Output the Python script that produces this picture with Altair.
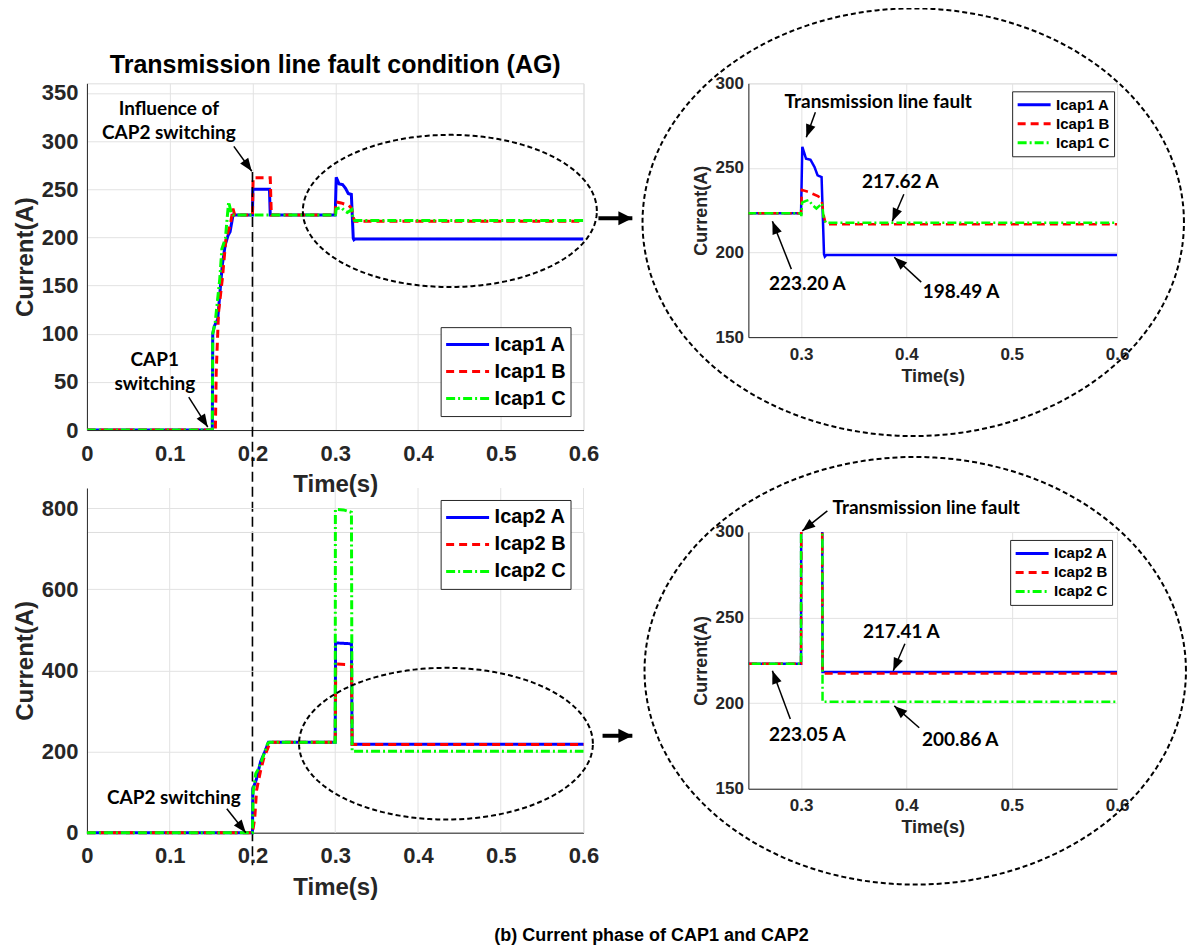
import math
import altair as alt
import numpy as np
import pandas as pd

FONT = "Liberation Sans"
ANN_FONT = "Lato"
AXC = "#262626"
GRID = "#e2e2e2"

# ---------------- series data ----------------
icap1_names = ["Icap1 A", "Icap1 B", "Icap1 C"]
icap1_a_t = [0, 0.1515, 0.152, 0.154, 0.158, 0.1635, 0.167, 0.1705, 0.173, 0.1765, 0.2, 0.2005, 0.2205, 0.2215,
             0.3, 0.3012, 0.3047, 0.309, 0.3128, 0.3157, 0.3195, 0.3218, 0.3226, 0.3240, 0.6]
icap1_a_v = [0, 0, 100, 108, 115, 171, 192, 202, 206, 223.2, 223.2, 250, 250, 223.2,
             223.2, 262.5, 255.5, 254.8, 250.5, 245.6, 244.6, 199.0, 197.6, 198.49, 198.49]
icap1_b_t = [0, 0.1552, 0.1562, 0.159, 0.1636, 0.168, 0.1732, 0.1765, 0.1785, 0.2, 0.2008, 0.2215, 0.2228,
             0.3, 0.3008, 0.307, 0.3164, 0.3198, 0.3215, 0.3235, 0.6]
icap1_b_v = [0, 0, 60, 122, 157, 199, 213, 230, 223.2, 223.2, 262, 262, 223.2,
             223.2, 237, 235.8, 233.2, 230, 222, 216.7, 216.7]
icap1_c_t = [0, 0.1515, 0.152, 0.155, 0.1605, 0.163, 0.1673, 0.1712, 0.1745, 0.1765, 0.2,
             0.3, 0.3003, 0.301, 0.3047, 0.3073, 0.311, 0.3146, 0.3182, 0.32, 0.3215, 0.3235, 0.6]
icap1_c_v = [0, 0, 100, 112, 157, 188, 199, 237, 225, 223.2, 223.2,
             223.2, 221.5, 229.5, 230.5, 231, 228, 226, 228, 229, 220, 217.62, 217.62]

icap2_names = ["Icap2 A", "Icap2 B", "Icap2 C"]
icap2_a_t = [0, 0.2, 0.2005, 0.2045, 0.2098, 0.215, 0.2194, 0.3, 0.3004, 0.318, 0.3196, 0.3204, 0.6]
icap2_a_v = [0, 0, 108, 130, 175, 200, 223.05, 223.05, 468, 466, 466, 218.2, 218.2]
icap2_b_t = [0, 0.2, 0.2027, 0.205, 0.2095, 0.2136, 0.2208, 0.2222, 0.3, 0.3006, 0.312, 0.3196, 0.3204, 0.6]
icap2_b_v = [0, 0, 35, 105, 150, 183, 220, 223.05, 223.05, 416, 415, 413, 217.3, 217.3]
icap2_c_t = [0, 0.2, 0.2008, 0.204, 0.2075, 0.212, 0.2184, 0.2205, 0.3, 0.3002, 0.31, 0.3196, 0.3204, 0.6]
icap2_c_v = [0, 0, 100, 146, 158, 183, 220, 223.05, 223.05, 797, 796, 790, 200.86, 200.86]

colors = ["#0000ff", "#ff0000", "#00ff00"]
dashes = [[1, 0], [8, 5], [9, 3, 2, 3]]

# tick values
main_x_ticks = [0, 0.1, 0.2, 0.3, 0.4, 0.5, 0.6]
zoom_x_ticks = [0.3, 0.4, 0.5, 0.6]
top_y_ticks = [0, 50, 100, 150, 200, 250, 300, 350]
bot_y_ticks = [0, 200, 400, 600, 800]
zoom_y_ticks = [150, 200, 250, 300]
bl_grid_ticks = [0.1, 0.3, 0.4, 0.5, 0.6]   # 0.2 is covered by the dashed marker line

# annotations: (text, t, value)
tl_texts = [("Influence of", 0.099, 333), ("CAP2 switching", 0.099, 308),
            ("CAP1", 0.082, 72.6), ("switching", 0.082, 47.7)]
tl_arrows = [(0.1775, 294.6, 0.1992, 268.7), (0.123, 34.2, 0.146, 3.1)]
tl_big_arrow = [(0.618, 220, 0.659, 220)]
tl_vline = [(0.2, 268, -452)]
tl_ellipse = (0.4385, 227.5, 0.1776, 79)

tr_texts = [("Transmission line fault", 0.3733, 288.8), ("217.62 A", 0.3942, 241.5),
            ("223.20 A", 0.306, 181.3), ("198.49 A", 0.452, 176.6)]
tr_arrows = [(0.3136, 282.9, 0.305, 268.1), (0.3976, 234.4, 0.3866, 218.5),
             (0.2908, 190.2, 0.2728, 218.5), (0.4141, 182.5, 0.3885, 197.2)]
tr_ellipse = (0.4065, 217.9, 0.257, 126.4)

bl_texts = [("CAP2 switching", 0.105, 86.2)]
bl_arrows = [(0.169, 59.1, 0.192, 0)]
bl_big_arrow = [(0.623, 239, 0.659, 239)]
bl_ellipse = (0.4338, 219.5, 0.1775, 187)

br_texts = [("Transmission line fault", 0.4188, 314), ("217.41 A", 0.3951, 241.6),
            ("223.05 A", 0.306, 181.5), ("200.86 A", 0.4511, 178.6)]
br_arrows = [(0.325, 312.3, 0.3012, 300.6), (0.3986, 234.7, 0.3875, 218.9),
             (0.2898, 190.8, 0.2728, 218.9), (0.4122, 185.6, 0.3885, 198.4)]
br_ellipse = (0.4084, 218.9, 0.257, 124.9)

caption = "(b) Current phase of CAP1 and CAP2"

# ---------------- layout sizes ----------------
W_MAIN, H_MAIN = 497, 347
W_ZOOM, H_TR, H_BR = 369, 254, 257
H_BL_CELL = 301

HEAD = "M0,0L-0.38,1L0.38,1Z"
BIG_HEAD = "M0,0L-0.5,1L0.5,1Z"


def series_df(names, ts, vs):
    rows = []
    for n, t, v in zip(names, ts, vs):
        for i, (a, b) in enumerate(zip(t, v)):
            rows.append({"s": n, "t": a, "v": b, "i": i})
    return pd.DataFrame(rows)


def ellipse_df(e, n=240):
    cx, cy, rx, ry = e
    th = np.linspace(0, 2 * np.pi, n)
    return pd.DataFrame({"t": cx + rx * np.cos(th), "v": cy + ry * np.sin(th), "i": np.arange(n)})


def arrows_df(arrows, sx, sy):
    rows = []
    for t1, v1, t2, v2 in arrows:
        dx = (t2 - t1) * sx
        dy = -(v2 - v1) * sy
        ang = math.degrees(math.atan2(dx, -dy)) % 360
        rows.append({"t": t1, "v": v1, "t2": t2, "v2": v2, "ang": ang})
    return pd.DataFrame(rows)


def legend(x, y, fs, sym_len, clip):
    return alt.Legend(orient="none", legendX=x, legendY=y, title=None, symbolType="stroke",
                      symbolSize=sym_len * sym_len, symbolStrokeWidth=3, labelFont=FONT,
                      labelFontSize=fs, labelFontWeight="bold", labelColor="black",
                      strokeColor=AXC, fillColor="white", padding=4, rowPadding=0,
                      clipHeight=clip, labelOffset=4)


def x_axis(values, fs, tfs, lpad, tpad, grid):
    return alt.Axis(values=values, labelExpr="datum.value == 0 ? '0' : format(datum.value, '.1f')",
                    grid=grid, gridColor=GRID, gridWidth=1, ticks=False, domainColor=AXC,
                    labelFont=FONT, labelFontSize=fs, labelFontWeight="bold", labelColor=AXC,
                    labelPadding=lpad, labelFlush=False, labelOverlap=False,
                    titleFont=FONT, titleFontSize=tfs, titleFontWeight="bold", titleColor=AXC,
                    titlePadding=tpad)


def y_axis(values, fs, tfs, lpad, tpad):
    return alt.Axis(values=values, grid=True, gridColor=GRID, gridWidth=1, ticks=False,
                    domainColor=AXC, labelFont=FONT, labelFontSize=fs, labelFontWeight="bold",
                    labelColor=AXC, labelPadding=lpad, labelOverlap=False,
                    titleFont=FONT, titleFontSize=tfs, titleFontWeight="bold", titleColor=AXC,
                    titlePadding=tpad)


def build_panel(df, names, X, Y, leg, lw, texts, arrows, sx, sy, ellipse, big=None, vline=None,
                xgrid=None, clip=True):
    layers = []
    if xgrid is not None:
        layers.append(alt.Chart(xgrid).mark_rule(color=GRID, strokeWidth=1).encode(x=X, y=Y, y2="v2:Q"))
    layers.append(
        alt.Chart(df).mark_line(strokeWidth=lw, clip=clip).encode(
            x=X, y=Y,
            color=alt.Color("s:N", scale=alt.Scale(domain=names, range=colors), legend=leg),
            strokeDash=alt.StrokeDash("s:N", scale=alt.Scale(domain=names, range=dashes), legend=leg),
            order=alt.Order("i:Q"),
        )
    )
    if vline is not None:
        vdf = pd.DataFrame([{"t": a, "v": b, "v2": c} for a, b, c in vline])
        layers.append(alt.Chart(vdf).mark_rule(color="black", strokeWidth=1.6, strokeDash=[10, 5],
                                                clip=False).encode(x=X, y=Y, y2="v2:Q"))
    layers.append(alt.Chart(ellipse_df(ellipse)).mark_line(color="black", strokeWidth=2,
                                                            strokeDash=[5, 3], clip=False)
                  .encode(x=X, y=Y, order=alt.Order("i:Q")))
    tdf = pd.DataFrame([{"label": a, "t": b, "v": c} for a, b, c in texts])
    layers.append(alt.Chart(tdf).mark_text(font=ANN_FONT, fontSize=19, fontWeight="bold", color="black",
                                           align="center", baseline="middle", clip=False)
                  .encode(x=X, y=Y, text="label:N"))
    adf = arrows_df(arrows, sx, sy)
    layers.append(alt.Chart(adf).mark_rule(color="black", strokeWidth=1.5, clip=False)
                  .encode(x=X, y=Y, x2="t2:Q", y2="v2:Q"))
    hdf = adf.assign(t=adf["t2"], v=adf["v2"])
    layers.append(alt.Chart(hdf).mark_point(shape=HEAD, filled=True, color="black", opacity=1,
                                            size=676, strokeWidth=0, clip=False)
                  .encode(x=X, y=Y, angle=alt.Angle("ang:Q", scale=None)))
    if big is not None:
        bdf = arrows_df(big, sx, sy)
        layers.append(alt.Chart(bdf).mark_rule(color="black", strokeWidth=4, clip=False)
                      .encode(x=X, y=Y, x2="t2:Q", y2="v2:Q"))
        bh = bdf.assign(t=bdf["t2"], v=bdf["v2"])
        layers.append(alt.Chart(bh).mark_point(shape=BIG_HEAD, filled=True, color="black", opacity=1,
                                               size=784, strokeWidth=0, clip=False)
                      .encode(x=X, y=Y, angle=alt.Angle("ang:Q", scale=None)))
    return alt.layer(*layers)


# ---------------- top-left ----------------
df1 = series_df(icap1_names, [icap1_a_t, icap1_b_t, icap1_c_t], [icap1_a_v, icap1_b_v, icap1_c_v])
df2 = series_df(icap2_names, [icap2_a_t, icap2_b_t, icap2_c_t], [icap2_a_v, icap2_b_v, icap2_c_v])

X_tl = alt.X("t:Q", title="Time(s)", scale=alt.Scale(domain=[0, 0.6], nice=False, zero=False),
             axis=x_axis(main_x_ticks, 22, 24, 13, 9, True))
Y_tl = alt.Y("v:Q", title="Current(A)", scale=alt.Scale(domain=[0, 360], nice=False, zero=False),
             axis=y_axis(top_y_ticks, 22, 24, 9, 4))
tl = build_panel(df1, icap1_names, X_tl, Y_tl, legend(354, 244, 20, 43, 27), 3,
                 tl_texts, tl_arrows, W_MAIN / 0.6, H_MAIN / 360, tl_ellipse,
                 big=tl_big_arrow, vline=tl_vline).properties(
    width=W_MAIN, height=H_MAIN,
    title=alt.TitleParams("Transmission line fault condition (AG)", font=FONT, fontSize=25,
                          fontWeight="bold", color="black", anchor="middle", frame="group",
                          baseline="alphabetic", offset=11, dy=27))

# ---------------- top-right (zoom) ----------------
X_z1 = alt.X("t:Q", title="Time(s)", scale=alt.Scale(domain=[0.25, 0.6], nice=False, zero=False),
             axis=x_axis(zoom_x_ticks, 17, 18, 9, 5, True))
Y_z1 = alt.Y("v:Q", title="Current(A)", scale=alt.Scale(domain=[150, 300], nice=False, zero=False),
             axis=y_axis(zoom_y_ticks, 17, 18, 5, 5))
tr = build_panel(df1, icap1_names, X_z1, Y_z1, legend(264, 8, 15, 33, 19), 2.5,
                 tr_texts, tr_arrows, W_ZOOM / 0.35, H_TR / 150, tr_ellipse).properties(
    width=W_ZOOM, height=H_TR)

# ---------------- bottom-left ----------------
X_bl = alt.X("t:Q", title="Time(s)", scale=alt.Scale(domain=[0, 0.6], nice=False, zero=False),
             axis=x_axis(main_x_ticks, 22, 24, 13, 9, False))
Y_bl = alt.Y("v:Q", title="Current(A)",
             scale=alt.Scale(domain=[0, 850], range=[H_BL_CELL, H_BL_CELL - 345], nice=False, zero=False),
             axis=y_axis(bot_y_ticks, 22, 24, 9, 4))
bl_grid = pd.DataFrame({"t": bl_grid_ticks, "v": [0] * len(bl_grid_ticks), "v2": [850] * len(bl_grid_ticks)})
bl = build_panel(df2, icap2_names, X_bl, Y_bl, legend(354, -32, 20, 43, 27), 3,
                 bl_texts, bl_arrows, W_MAIN / 0.6, 345 / 850, bl_ellipse,
                 big=bl_big_arrow, xgrid=bl_grid, clip=False).properties(width=W_MAIN, height=H_BL_CELL)

# ---------------- bottom-right (zoom) ----------------
X_z2 = alt.X("t:Q", title="Time(s)", scale=alt.Scale(domain=[0.25, 0.6], nice=False, zero=False),
             axis=x_axis(zoom_x_ticks, 17, 18, 9, 5, True))
Y_z2 = alt.Y("v:Q", title="Current(A)", scale=alt.Scale(domain=[150, 300], nice=False, zero=False),
             axis=y_axis(zoom_y_ticks, 17, 18, 5, 5))
br = build_panel(df2, icap2_names, X_z2, Y_z2, legend(262, 8, 15, 33, 19), 2.5,
                 br_texts, br_arrows, W_ZOOM / 0.35, H_BR / 150, br_ellipse).properties(
    width=W_ZOOM, height=H_BR)

chart = alt.concat(
    tl, tr, bl, br, columns=2,
    spacing={"row": 102, "column": 165}, bounds="flush", align="all",
    padding={"left": 4, "top": -5, "right": 0, "bottom": 0},
    title=alt.TitleParams(caption, orient="bottom", anchor="middle", dx=50, offset=27,
                          font=FONT, fontSize=18, fontWeight="bold", color="black"),
).resolve_scale(color="independent", strokeDash="independent").resolve_legend(
    color="independent", strokeDash="independent"
).configure_view(stroke=None).configure(background="white")

chart.save("out.html", embed_options={"renderer": "svg", "actions": False})
